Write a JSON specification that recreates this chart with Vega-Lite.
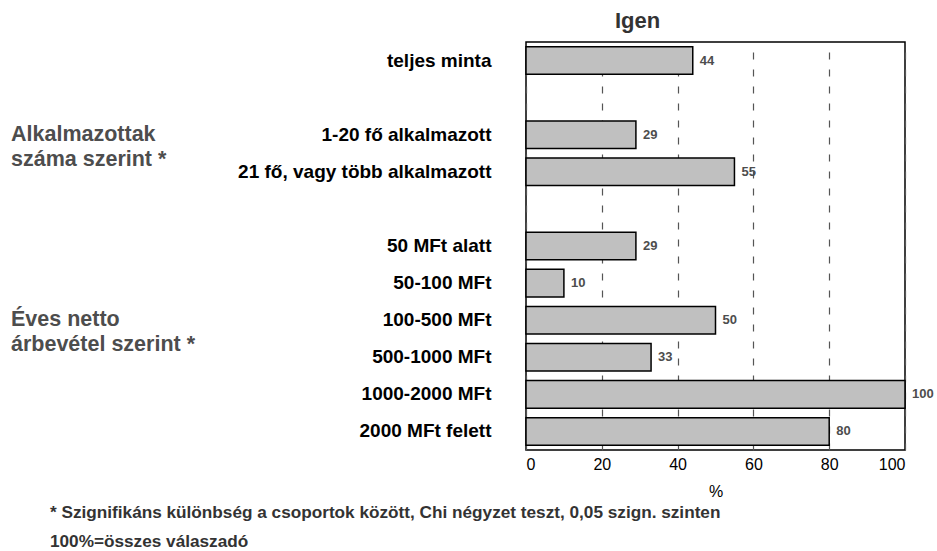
{
  "$schema": "https://vega.github.io/schema/vega-lite/v6.json",
  "padding": {"left": 0, "top": 9, "right": 2, "bottom": 0},
  "bounds": "flush",
  "spacing": 504,
  "title": {
    "text": "* Szignifikáns különbség a csoportok között, Chi négyzet teszt, 0,05 szign. szinten",
    "subtitle": "100%=összes válaszadó",
    "orient": "bottom", "anchor": "start", "frame": "bounds", "dx": 50, "offset": 4,
    "font": "Liberation Sans", "fontSize": 17.2, "fontWeight": "bold", "color": "#333333",
    "subtitleFont": "Liberation Sans", "subtitleFontSize": 17.2, "subtitleFontWeight": "bold", "subtitleColor": "#333333", "subtitlePadding": 12
  },
  "datasets": {
    "bars": [
      {"label": "teljes minta", "value": 44},
      {"label": "1-20 fő alkalmazott", "value": 29},
      {"label": "21 fő, vagy több alkalmazott", "value": 55},
      {"label": "50 MFt alatt", "value": 29},
      {"label": "50-100 MFt", "value": 10},
      {"label": "100-500 MFt", "value": 50},
      {"label": "500-1000 MFt", "value": 33},
      {"label": "1000-2000 MFt", "value": 100},
      {"label": "2000 MFt felett", "value": 80}
    ],
    "groups": [
      {"row": "1-20 fő alkalmazott", "group": "Alkalmazottak\nszáma szerint *"},
      {"row": "100-500 MFt", "group": "Éves netto\nárbevétel szerint *"}
    ]
  },
  "hconcat": [
    {
      "width": 22, "height": 408,
      "view": {"stroke": null},
      "data": {"name": "groups"},
      "mark": {"type": "text", "align": "left", "baseline": "middle", "lineBreak": "\n", "font": "Liberation Sans", "fontSize": 21.5, "fontWeight": "bold", "fill": "#4d4d4d", "lineHeight": 25},
      "encoding": {
        "y": {"field": "row", "type": "nominal", "sort": null, "bandPosition": 1.33,
          "scale": {"domain": ["teljes minta", " ", "1-20 fő alkalmazott", "21 fő, vagy több alkalmazott", "  ", "50 MFt alatt", "50-100 MFt", "100-500 MFt", "500-1000 MFt", "1000-2000 MFt", "2000 MFt felett"], "paddingInner": 0.256, "paddingOuter": 0.127},
          "axis": null},
        "text": {"field": "group", "type": "nominal"}
      }
    },
    {
      "width": 379, "height": 408,
      "view": {"stroke": "black", "strokeWidth": 1.5},
      "title": {"text": "Igen", "anchor": "middle", "frame": "group", "dx": -78, "offset": -8, "baseline": "alphabetic", "font": "Liberation Sans", "fontSize": 22, "fontWeight": "bold", "color": "#333333"},
      "data": {"name": "bars"},
      "encoding": {
        "y": {"field": "label", "type": "nominal", "sort": null,
          "scale": {"domain": ["teljes minta", " ", "1-20 fő alkalmazott", "21 fő, vagy több alkalmazott", "  ", "50 MFt alatt", "50-100 MFt", "100-500 MFt", "500-1000 MFt", "1000-2000 MFt", "2000 MFt felett"], "paddingInner": 0.256, "paddingOuter": 0.127},
          "axis": {"title": null, "domain": false, "ticks": false, "labelFont": "Liberation Sans", "labelFontSize": 19, "labelFontWeight": "bold", "labelColor": "black", "labelPadding": 35, "labelLimit": 400}},
        "x": {"field": "value", "type": "quantitative",
          "scale": {"domain": [0, 100], "nice": false},
          "axis": {"values": [0, 20, 40, 60, 80, 100], "grid": true, "gridDash": [7, 10], "gridColor": "#555555", "gridWidth": 1.2, "gridOpacity": 1, "domain": false, "ticks": false, "labelFont": "Liberation Sans", "labelFontSize": 16, "labelColor": "black", "labelPadding": 6, "title": "%", "titleFont": "Liberation Sans", "titleFontSize": 16, "titleFontWeight": "normal", "titleColor": "black", "titlePadding": 11}}
      },
      "layer": [
        {"mark": {"type": "bar", "fill": "#c0c0c0", "stroke": "black", "strokeWidth": 1.5}},
        {"mark": {"type": "text", "align": "left", "baseline": "middle", "dx": 7, "font": "Liberation Sans", "fontSize": 13, "fontWeight": "bold", "fill": "#4d4d4d"},
         "encoding": {"text": {"field": "value", "type": "quantitative"}}}
      ]
    }
  ],
  "config": {"font": "Liberation Sans", "view": {"stroke": null}}
}
